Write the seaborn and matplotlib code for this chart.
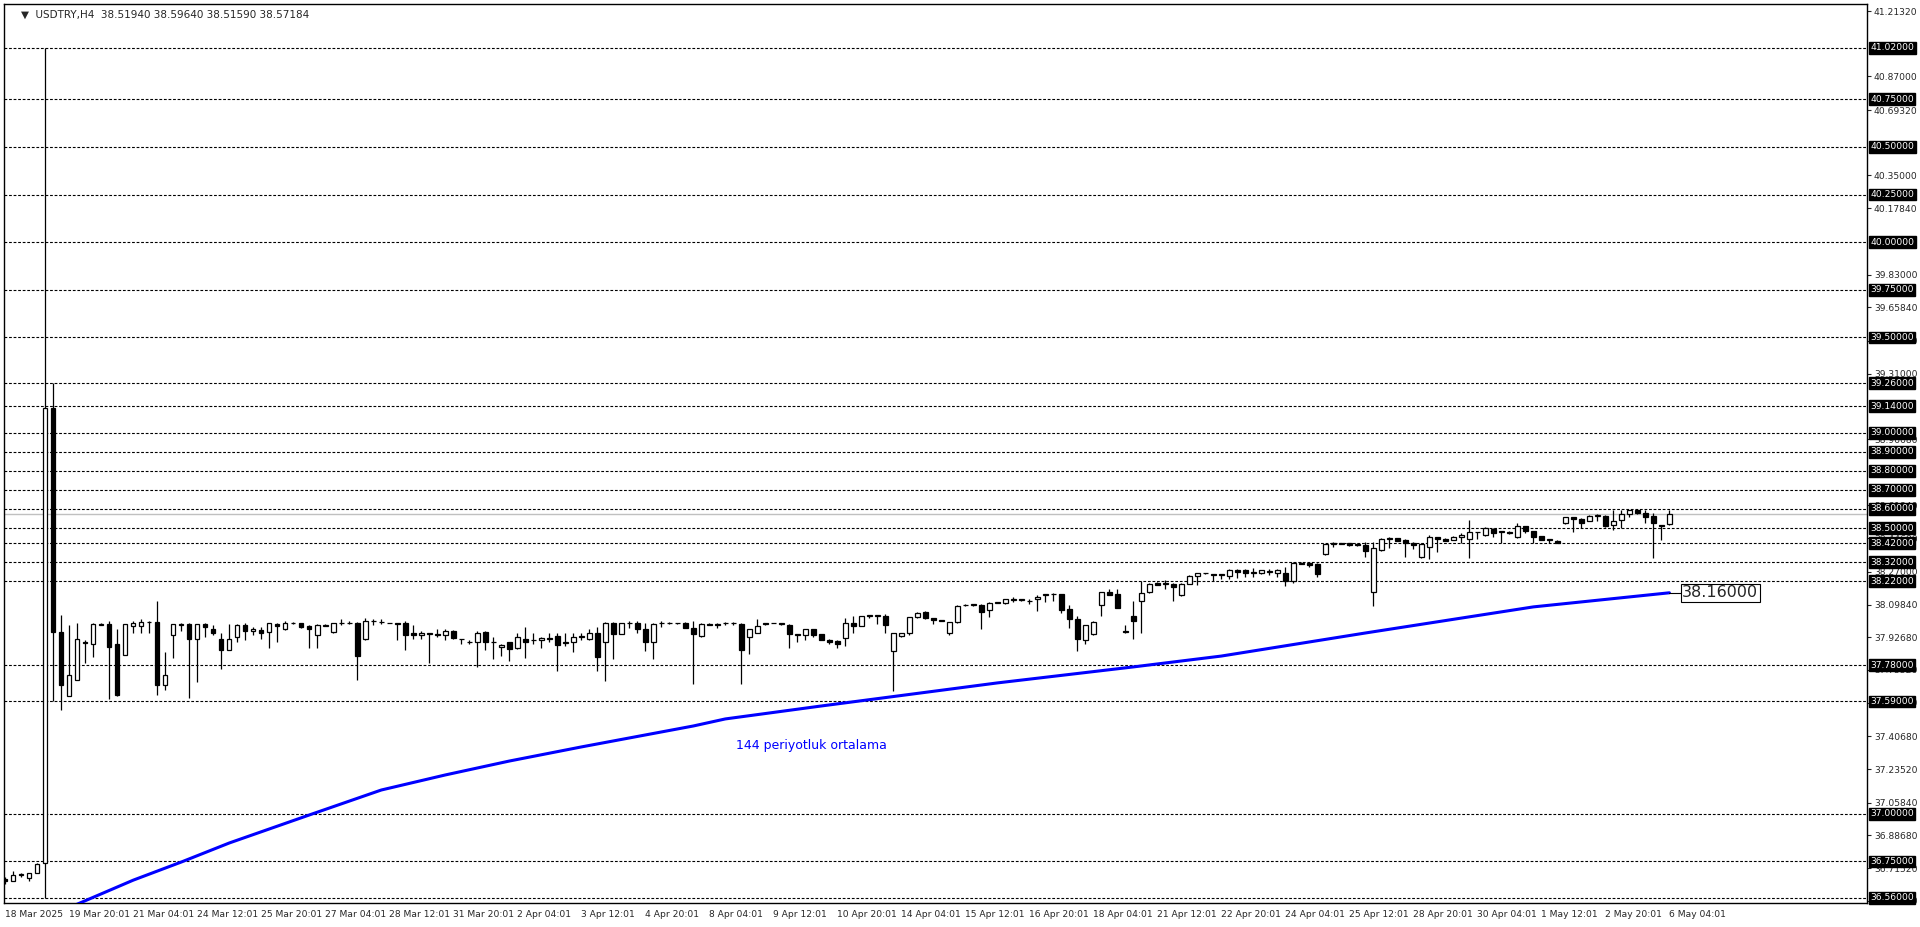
import numpy as np
import pandas as pd
import matplotlib
matplotlib.use("Agg")
import matplotlib.pyplot as plt
import seaborn as sns

# USDTRY H4 candles, 18 Mar 2025 -> 6 May 2025
opens = [36.66, 36.65, 36.68, 36.665, 36.69, 36.74, 39.13, 37.956, 37.616, 37.704,
         37.903, 37.889, 37.995, 37.995, 37.891, 37.836, 37.985, 37.985, 38.007, 38.007,
         37.678, 37.94, 37.995, 37.995, 37.915, 37.995, 37.97, 37.92, 37.86, 37.93,
         37.99, 37.958, 37.963, 37.954, 37.995, 37.97, 38.0, 38.0, 37.985, 37.94,
         37.988, 37.955, 38.0, 38.0, 38.0, 37.92, 38.01, 38.005, 38.0, 38.0,
         38.0, 37.947, 37.937, 37.945, 37.945, 37.94, 37.96, 37.917, 37.9, 37.9,
         37.955, 37.9, 37.877, 37.9, 37.868, 37.918, 37.91, 37.91, 37.92, 37.932,
         37.899, 37.9, 37.93, 37.92, 37.947, 37.9, 38.0, 37.945, 38.0, 38.0,
         37.968, 37.902, 38.0, 38.001, 38.0, 38.003, 37.977, 37.934, 37.998, 37.998,
         38.0, 38.0, 37.998, 37.93, 37.947, 37.999, 38.0, 37.998, 37.993, 37.94,
         37.94, 37.97, 37.942, 37.912, 37.905, 37.923, 38.004, 37.984, 38.038, 38.038,
         38.038, 37.855, 37.932, 37.949, 38.033, 38.059, 38.028, 38.012, 37.949, 38.006,
         38.094, 38.098, 38.094, 38.07, 38.108, 38.104, 38.123, 38.123, 38.116, 38.125,
         38.146, 38.153, 38.153, 38.073, 38.021, 37.914, 37.945, 38.095, 38.165, 38.155,
         37.962, 38.04, 38.115, 38.162, 38.212, 38.208, 38.208, 38.148, 38.208, 38.25,
         38.262, 38.257, 38.253, 38.248, 38.281, 38.281, 38.265, 38.262, 38.27, 38.262,
         38.266, 38.22, 38.318, 38.316, 38.313, 38.365, 38.418, 38.418, 38.42, 38.418,
         38.411, 38.162, 38.383, 38.444, 38.449, 38.437, 38.42, 38.346, 38.398, 38.451,
         38.444, 38.437, 38.455, 38.44, 38.477, 38.462, 38.497, 38.479, 38.481, 38.451,
         38.511, 38.483, 38.458, 38.437, 38.434, 38.528, 38.556, 38.548, 38.538, 38.563,
         38.565, 38.518, 38.544, 38.572, 38.596, 38.577, 38.562, 38.516, 38.5194]
highs = [36.67, 36.70, 36.69, 36.69, 36.74, 41.02, 39.26, 38.044, 37.991, 38.0,
         37.91, 38.0, 38.0, 38.012, 37.968, 37.997, 38.01, 38.02, 38.01, 38.118,
         37.847, 37.995, 38.0, 38.0, 37.998, 38.0, 37.99, 37.95, 37.995, 37.995,
         38.0, 37.98, 37.98, 38.0, 38.0, 38.01, 38.005, 38.0, 37.99, 37.995,
         37.995, 38.0, 38.02, 38.01, 38.005, 38.03, 38.02, 38.02, 38.0, 38.0,
         38.01, 37.99, 37.96, 37.95, 37.97, 37.97, 37.965, 37.92, 37.91, 37.96,
         37.96, 37.93, 37.89, 37.9, 37.95, 37.98, 37.95, 37.93, 37.95, 37.95,
         37.95, 37.95, 37.95, 37.97, 37.98, 38.005, 38.005, 38.0, 38.01, 38.01,
         38.0, 38.0, 38.01, 38.005, 38.0, 38.005, 38.01, 38.0, 38.0, 38.0,
         38.005, 38.005, 38.0, 37.97, 38.025, 38.0, 38.0, 37.998, 37.995, 37.94,
         37.97, 37.97, 37.945, 37.915, 37.91, 38.03, 38.04, 38.04, 38.04, 38.04,
         38.05, 37.95, 37.95, 38.033, 38.06, 38.065, 38.03, 38.013, 38.006, 38.094,
         38.1, 38.1, 38.1, 38.11, 38.11, 38.125, 38.14, 38.13, 38.13, 38.146,
         38.153, 38.16, 38.155, 38.095, 38.04, 37.99, 38.01, 38.163, 38.18, 38.18,
         37.99, 38.115, 38.222, 38.21, 38.215, 38.225, 38.21, 38.21, 38.255, 38.266,
         38.265, 38.26, 38.258, 38.285, 38.283, 38.283, 38.288, 38.28, 38.285, 38.283,
         38.296, 38.322, 38.32, 38.32, 38.315, 38.416, 38.425, 38.42, 38.421, 38.42,
         38.428, 38.428, 38.446, 38.455, 38.45, 38.44, 38.425, 38.42, 38.463, 38.452,
         38.446, 38.457, 38.476, 38.542, 38.48, 38.505, 38.5, 38.482, 38.483, 38.525,
         38.513, 38.485, 38.46, 38.44, 38.436, 38.557, 38.558, 38.55, 38.566, 38.572,
         38.566, 38.596, 38.596, 38.596, 38.598, 38.596, 38.577, 38.517, 38.5964]
lows = [36.63, 36.65, 36.67, 36.65, 36.69, 36.56, 37.59, 37.546, 37.616, 37.704,
        37.792, 37.824, 37.99, 37.6, 37.616, 37.836, 37.947, 37.947, 37.95, 37.625,
        37.65, 37.82, 37.96, 37.61, 37.69, 37.93, 37.94, 37.76, 37.86, 37.9,
        37.91, 37.94, 37.92, 37.87, 37.9, 37.965, 37.995, 37.975, 37.87, 37.87,
        37.985, 37.95, 37.99, 37.995, 37.70, 37.91, 37.99, 37.995, 38.0, 37.91,
        37.86, 37.916, 37.92, 37.79, 37.93, 37.91, 37.92, 37.89, 37.89, 37.77,
        37.86, 37.815, 37.83, 37.8, 37.865, 37.82, 37.89, 37.87, 37.9, 37.747,
        37.88, 37.85, 37.91, 37.91, 37.747, 37.695, 37.81, 37.945, 37.975, 37.95,
        37.855, 37.81, 37.98, 37.995, 37.995, 37.98, 37.68, 37.93, 37.99, 37.975,
        37.99, 37.99, 37.68, 37.84, 37.947, 37.99, 37.999, 37.99, 37.87, 37.9,
        37.91, 37.93, 37.92, 37.89, 37.87, 37.88, 37.95, 37.984, 38.03, 37.995,
        37.95, 37.644, 37.93, 37.94, 38.03, 38.02, 37.996, 38.01, 37.94, 38.0,
        38.09, 38.09, 37.968, 38.035, 38.105, 38.1, 38.11, 38.115, 38.1, 38.065,
        38.11, 38.118, 38.052, 37.977, 37.856, 37.89, 37.94, 38.04, 38.15, 38.08,
        37.95, 37.917, 37.95, 38.16, 38.2, 38.18, 38.117, 38.145, 38.205, 38.2,
        38.26, 38.222, 38.231, 38.231, 38.235, 38.244, 38.241, 38.26, 38.253, 38.241,
        38.197, 38.209, 38.31, 38.296, 38.245, 38.36, 38.398, 38.417, 38.408, 38.408,
        38.349, 38.092, 38.38, 38.393, 38.43, 38.349, 38.388, 38.344, 38.339, 38.376,
        38.43, 38.435, 38.42, 38.342, 38.44, 38.46, 38.455, 38.42, 38.47, 38.45,
        38.472, 38.423, 38.435, 38.42, 38.42, 38.52, 38.481, 38.499, 38.535, 38.539,
        38.506, 38.49, 38.499, 38.556, 38.576, 38.527, 38.342, 38.435, 38.5159]
closes = [36.65, 36.68, 36.68, 36.69, 36.735, 39.13, 37.956, 37.678, 37.731, 37.916,
          37.894, 37.995, 37.993, 37.877, 37.625, 37.996, 38.0, 38.007, 38.005, 37.678,
          37.726, 37.995, 37.993, 37.915, 37.995, 37.98, 37.947, 37.86, 37.92, 37.99,
          37.96, 37.97, 37.95, 38.0, 37.985, 38.0, 38.0, 37.98, 37.97, 37.99,
          37.99, 38.0, 38.0, 38.0, 37.83, 38.01, 38.01, 38.005, 38.0, 37.995,
          37.94, 37.937, 37.947, 37.945, 37.938, 37.96, 37.925, 37.917, 37.9, 37.95,
          37.9, 37.9, 37.887, 37.864, 37.926, 37.904, 37.91, 37.923, 37.92, 37.888,
          37.899, 37.928, 37.93, 37.947, 37.825, 38.0, 37.945, 38.0, 38.0, 37.968,
          37.904, 37.994, 38.0, 38.0, 38.0, 37.975, 37.944, 37.998, 37.991, 37.993,
          38.0, 38.0, 37.86, 37.97, 37.987, 37.994, 38.0, 37.998, 37.946, 37.94,
          37.97, 37.94, 37.912, 37.9, 37.893, 38.002, 37.984, 38.038, 38.038, 38.038,
          37.99, 37.949, 37.949, 38.033, 38.054, 38.026, 38.016, 38.012, 38.006, 38.091,
          38.094, 38.098, 38.058, 38.108, 38.108, 38.125, 38.123, 38.123, 38.116, 38.139,
          38.153, 38.153, 38.07, 38.021, 37.917, 37.99, 38.006, 38.163, 38.151, 38.08,
          37.952, 38.013, 38.158, 38.205, 38.203, 38.208, 38.192, 38.208, 38.25, 38.266,
          38.262, 38.253, 38.253, 38.28, 38.27, 38.265, 38.266, 38.278, 38.271, 38.28,
          38.224, 38.318, 38.311, 38.306, 38.26, 38.414, 38.42, 38.418, 38.409, 38.409,
          38.381, 38.393, 38.444, 38.445, 38.433, 38.42, 38.411, 38.416, 38.451, 38.444,
          38.434, 38.455, 38.465, 38.477, 38.478, 38.5, 38.476, 38.48, 38.472, 38.511,
          38.486, 38.455, 38.437, 38.438, 38.423, 38.556, 38.546, 38.525, 38.564, 38.564,
          38.511, 38.535, 38.572, 38.594, 38.577, 38.558, 38.525, 38.509, 38.57184]

# 144-period moving average, read at a few candles
ma_bars = [8, 10, 17, 23, 29, 39, 48, 56, 64, 73, 87, 91, 103, 125, 142, 153, 171, 192, 209]
ma_vals = [36.49, 36.526, 36.652, 36.747, 36.847, 36.994, 37.125, 37.204, 37.277, 37.351,
           37.461, 37.498, 37.566, 37.687, 37.771, 37.828, 37.949, 38.086, 38.16]

level_lines = [41.02, 40.75, 40.50, 40.25, 40.00, 39.75, 39.50, 39.26, 39.14, 39.00,
               38.90, 38.80, 38.70, 38.60, 38.50, 38.42, 38.32, 38.22, 37.78, 37.59,
               37.00, 36.75, 36.56]
price_ticks = [41.2132, 40.87, 40.6932, 40.35, 40.1784, 39.83, 39.6584, 39.4816, 39.31,
               38.9668, 38.6184, 38.4468, 38.27, 38.0984, 37.9268, 37.7552, 37.5836,
               37.4068, 37.2352, 37.0584, 36.8868, 36.7152, 36.5436]
time_labels = ["18 Mar 2025", "19 Mar 20:01", "21 Mar 04:01", "24 Mar 12:01", "25 Mar 20:01",
               "27 Mar 04:01", "28 Mar 12:01", "31 Mar 20:01", "2 Apr 04:01", "3 Apr 12:01",
               "4 Apr 20:01", "8 Apr 04:01", "9 Apr 12:01", "10 Apr 20:01", "14 Apr 04:01",
               "15 Apr 12:01", "16 Apr 20:01", "18 Apr 04:01", "21 Apr 12:01", "22 Apr 20:01",
               "24 Apr 04:01", "25 Apr 12:01", "28 Apr 20:01", "30 Apr 04:01", "1 May 12:01",
               "2 May 20:01", "6 May 04:01"]

df = pd.DataFrame({"o": opens, "h": highs, "l": lows, "c": closes})
df["bar"] = np.arange(1, len(df) + 1)
ma = pd.DataFrame({"bar": ma_bars, "ma": ma_vals})

sns.set_style("white")
plt.rcParams["font.family"] = ["DejaVu Sans"]

fig = plt.figure(figsize=(19.2, 9.27), dpi=100)
ax = fig.add_axes([4 / 1920, 24 / 927, 1863 / 1920, 899 / 927])
ax.set_xlim(0.84, 233.7)
ax.set_ylim(36.532, 41.25)

for lv in level_lines:
    ax.axhline(lv, color="black", lw=0.8, ls=(0, (2.5, 1.6)), zorder=1)
    ax.text(1.0018, lv, f"{lv:.5f}", transform=ax.get_yaxis_transform(), va="center", ha="left",
            fontsize=6.6, color="white", zorder=6, clip_on=False,
            bbox=dict(boxstyle="square,pad=0.15", fc="black", ec="black"))
ax.axhline(closes[-1], color="#c0c0c0", lw=1, zorder=1)

# candles
up = df["c"] >= df["o"]
ax.vlines(df["bar"], df["l"], df["h"], color="black", lw=0.9, zorder=3)
body_lo = np.minimum(df["o"], df["c"])
body_h = np.maximum(np.abs(df["c"] - df["o"]), 0.003)
ax.bar(df["bar"][up], body_h[up], bottom=body_lo[up], width=0.55, color="white",
       edgecolor="black", linewidth=0.9, zorder=4)
ax.bar(df["bar"][~up], body_h[~up], bottom=body_lo[~up], width=0.55, color="black",
       edgecolor="black", linewidth=0.9, zorder=4)

sns.lineplot(data=ma, x="bar", y="ma", ax=ax, color="#0000ff", lw=2.2, zorder=5)
ax.plot([ma_bars[-1], 210.6], [ma_vals[-1], ma_vals[-1]], color="black", lw=0.8, zorder=5)
ax.text(210.6, ma_vals[-1], f"{ma_vals[-1]:.5f}", fontsize=11.5, va="center", ha="left",
        zorder=7, bbox=dict(boxstyle="square,pad=0.1", fc="white", ec="black", lw=0.8))
ax.text(101.8, 37.36, "144 periyotluk ortalama", color="#0000ff", fontsize=9,
        ha="center", va="center")

ax.text(0.009, 0.994, "\u25bc  USDTRY,H4  38.51940 38.59640 38.51590 38.57184",
        transform=ax.transAxes, fontsize=7.5, va="top", ha="left")

ax.set_xlabel("")
ax.set_ylabel("")
ax.yaxis.tick_right()
ax.set_yticks(price_ticks)
ax.set_yticklabels([f"{v:.5f}" for v in price_ticks], fontsize=6.6)
ax.tick_params(axis="y", length=3, width=0.8, pad=2)
ax.set_xticks(np.arange(1, len(time_labels) * 8, 8))
ax.set_xticklabels(time_labels, fontsize=6.6, ha="left")
ax.tick_params(axis="x", length=3, width=0.8, pad=2)
for sp in ax.spines.values():
    sp.set_color("black")
    sp.set_linewidth(1)

fig.savefig("out.png", dpi=100)
